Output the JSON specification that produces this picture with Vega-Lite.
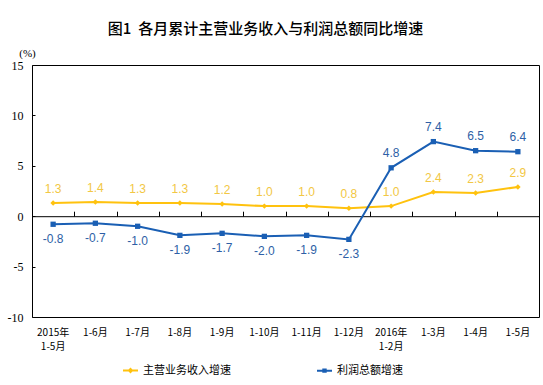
{
  "$schema": "https://vega.github.io/schema/vega-lite/v6.json",
  "width": 507,
  "height": 252,
  "autosize": {"type": "none"},
  "padding": {"left": 32, "top": 65, "right": 4, "bottom": 68},
  "background": "white",
  "title": {
    "text": "图1\u00a0\u00a0各月累计主营业务收入与利润总额同比增速",
    "font": "Noto Sans CJK SC",
    "fontSize": 15,
    "fontWeight": 500,
    "color": "#000000",
    "anchor": "middle",
    "frame": "group",
    "dx": -20,
    "offset": 10
  },
  "config": {
    "view": {"stroke": "#000000", "strokeWidth": 1},
    "axis": {"grid": false},
    "locale": {
      "number": {"decimal": ".", "thousands": ",", "grouping": [3], "currency": ["", ""], "minus": "-"}
    }
  },
  "data": {
    "values": [
      {"m": "2015年1-5月", "s": "主营业务收入增速", "v": 1.3},
      {"m": "1-6月", "s": "主营业务收入增速", "v": 1.4},
      {"m": "1-7月", "s": "主营业务收入增速", "v": 1.3},
      {"m": "1-8月", "s": "主营业务收入增速", "v": 1.3},
      {"m": "1-9月", "s": "主营业务收入增速", "v": 1.2},
      {"m": "1-10月", "s": "主营业务收入增速", "v": 1.0},
      {"m": "1-11月", "s": "主营业务收入增速", "v": 1.0},
      {"m": "1-12月", "s": "主营业务收入增速", "v": 0.8},
      {"m": "2016年1-2月", "s": "主营业务收入增速", "v": 1.0},
      {"m": "1-3月", "s": "主营业务收入增速", "v": 2.4},
      {"m": "1-4月", "s": "主营业务收入增速", "v": 2.3},
      {"m": "1-5月", "s": "主营业务收入增速", "v": 2.9},
      {"m": "2015年1-5月", "s": "利润总额增速", "v": -0.8},
      {"m": "1-6月", "s": "利润总额增速", "v": -0.7},
      {"m": "1-7月", "s": "利润总额增速", "v": -1.0},
      {"m": "1-8月", "s": "利润总额增速", "v": -1.9},
      {"m": "1-9月", "s": "利润总额增速", "v": -1.7},
      {"m": "1-10月", "s": "利润总额增速", "v": -2.0},
      {"m": "1-11月", "s": "利润总额增速", "v": -1.9},
      {"m": "1-12月", "s": "利润总额增速", "v": -2.3},
      {"m": "2016年1-2月", "s": "利润总额增速", "v": 4.8},
      {"m": "1-3月", "s": "利润总额增速", "v": 7.4},
      {"m": "1-4月", "s": "利润总额增速", "v": 6.5},
      {"m": "1-5月", "s": "利润总额增速", "v": 6.4}
    ]
  },
  "resolve": {"axis": {"x": "independent"}},
  "layer": [
    {
      "mark": {"type": "line", "strokeWidth": 2},
      "encoding": {
        "x": {
          "field": "m", "type": "nominal", "sort": null,
          "scale": {"paddingInner": 0, "paddingOuter": 0},
          "axis": {
            "title": null, "orient": "bottom", "ticks": false, "domain": false,
            "labelAngle": 0, "labelFont": "Noto Sans CJK SC", "labelFontSize": 10,
            "labelColor": "#000000", "labelPadding": 10, "labelLineHeight": 14,
            "labelBaseline": "top",
            "labelExpr": "indexof(datum.value,'年')>0 ? [slice(datum.value,0,5), slice(datum.value,5)] : datum.value"
          }
        },
        "y": {
          "field": "v", "type": "quantitative",
          "scale": {"domain": [-10, 15], "nice": false},
          "axis": {
            "values": [-10, -5, 0, 5, 10, 15],
            "title": "(%)", "titleAngle": 0, "titleFont": "Liberation Serif",
            "titleFontSize": 11, "titleFontWeight": "normal", "titleColor": "#000000",
            "titleX": -5, "titleY": -12, "titleAlign": "center", "titleBaseline": "middle",
            "labelFont": "Liberation Serif", "labelFontSize": 12, "labelColor": "#000000",
            "tickSize": -3, "tickColor": "#000000", "labelPadding": 12,
            "domain": false
          }
        },
        "color": {
          "field": "s", "type": "nominal",
          "scale": {"domain": ["主营业务收入增速", "利润总额增速"], "range": ["#FFC20E", "#1A5FB4"]},
          "legend": {
            "orient": "none", "legendX": 90, "legendY": 297, "direction": "horizontal",
            "title": null, "labelFont": "Noto Sans CJK SC", "labelFontSize": 11,
            "labelColor": "#000000", "columnPadding": 82, "labelOffset": 4,
            "symbolSize": 225, "symbolStrokeWidth": 2, "symbolOpacity": 1,
            "symbolType": {"expr": "datum.value == '主营业务收入增速' ? 'M-1,0L1,0M-0.2,0L0,-0.2L0.2,0L0,0.2Z' : 'M-1,0L1,0M-0.16,-0.16L0.16,-0.16L0.16,0.16L-0.16,0.16Z'"},
            "encode": {
              "symbols": {
                "update": {
                  "shape": {"signal": "datum.value == '主营业务收入增速' ? 'M-1,0L1,0M-0.2,0L0,-0.2L0.2,0L0,0.2Z' : 'M-1,0L1,0M-0.16,-0.16L0.16,-0.16L0.16,0.16L-0.16,0.16Z'"},
                  "fill": {"signal": "datum.value == '主营业务收入增速' ? '#FFC20E' : '#1A5FB4'"},
                  "fillOpacity": {"value": 1}
                }
              }
            }
          }
        }
      }
    },
    {
      "transform": [{"filter": "datum.s == '主营业务收入增速'"}],
      "mark": {"type": "point", "filled": true, "opacity": 1, "shape": "diamond", "size": 30, "color": "#FFC20E"},
      "encoding": {
        "x": {
          "field": "m", "type": "nominal", "sort": null,
          "axis": {
            "title": null, "orient": "top", "offset": -151.2, "labels": false,
            "domain": true, "domainColor": "#000000", "ticks": true, "tickBand": "extent",
            "tickSize": 5, "tickColor": "#000000"
          }
        },
        "y": {"field": "v", "type": "quantitative"}
      }
    },
    {
      "transform": [{"filter": "datum.s == '利润总额增速'"}],
      "mark": {"type": "point", "filled": true, "opacity": 1, "shape": "square", "size": 28, "color": "#1A5FB4"},
      "encoding": {
        "x": {"field": "m", "type": "nominal", "sort": null, "axis": null},
        "y": {"field": "v", "type": "quantitative"}
      }
    },
    {
      "transform": [{"filter": "datum.s == '主营业务收入增速'"}],
      "mark": {"type": "text", "dy": -14, "font": "Liberation Sans", "fontSize": 12, "color": "#F2C744"},
      "encoding": {
        "x": {"field": "m", "type": "nominal", "sort": null, "axis": null},
        "y": {"field": "v", "type": "quantitative"},
        "text": {"field": "v", "type": "quantitative", "format": ".1f"}
      }
    },
    {
      "transform": [{"filter": "datum.s == '利润总额增速' && datum.v > 0"}],
      "mark": {"type": "text", "dy": -15, "font": "Liberation Sans", "fontSize": 12, "color": "#2E5FA6"},
      "encoding": {
        "x": {"field": "m", "type": "nominal", "sort": null, "axis": null},
        "y": {"field": "v", "type": "quantitative"},
        "text": {"field": "v", "type": "quantitative", "format": ".1f"}
      }
    },
    {
      "transform": [{"filter": "datum.s == '利润总额增速' && datum.v < 0"}],
      "mark": {"type": "text", "dy": 15, "font": "Liberation Sans", "fontSize": 12, "color": "#2E5FA6"},
      "encoding": {
        "x": {"field": "m", "type": "nominal", "sort": null, "axis": null},
        "y": {"field": "v", "type": "quantitative"},
        "text": {"field": "v", "type": "quantitative", "format": ".1f"}
      }
    }
  ]
}
